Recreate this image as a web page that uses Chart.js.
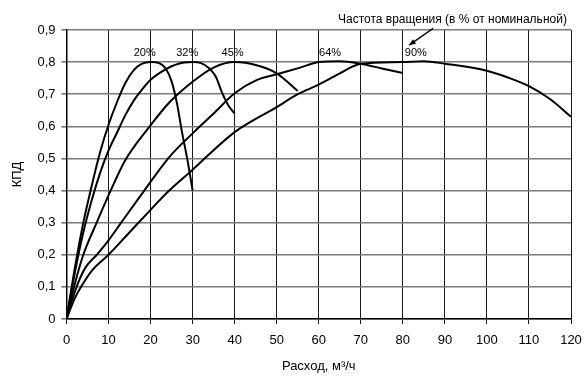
<!DOCTYPE html>
<html>
<head>
<meta charset="utf-8">
<script src="https://cdn.jsdelivr.net/npm/chart.js@4/dist/chart.umd.min.js"></script>
<style>
  body { margin: 0; background: #fff; }
  #wrap { width: 585px; height: 376px; }
</style>
</head>
<body>
<div id="wrap"><canvas id="kpdChart"></canvas></div>
<script>
// расход (м3/ч) и КПД для каждой частоты вращения
var rashod20 = [0, 2, 4, 6, 8, 10, 12, 14, 16, 18, 20, 22, 23.7, 25, 26.3, 27.5, 28.7, 30];
var kpd20    = [0, 0.16, 0.3, 0.415, 0.52, 0.605, 0.675, 0.735, 0.775, 0.795, 0.80, 0.797, 0.778, 0.74, 0.67, 0.58, 0.50, 0.40];

var rashod32 = [0, 2, 4, 6, 8, 10, 12, 14, 16, 18, 20, 22, 25, 28, 30, 32, 34, 35.5, 37, 38.5, 40];
var kpd32    = [0, 0.145, 0.27, 0.37, 0.455, 0.525, 0.58, 0.635, 0.68, 0.715, 0.745, 0.765, 0.787, 0.799, 0.80, 0.797, 0.78, 0.755, 0.705, 0.665, 0.64];

var rashod45 = [0, 2, 4, 7, 10, 14, 19.8, 24.5, 30, 35, 40, 45.2, 50, 55];
var kpd45    = [0, 0.11, 0.2, 0.295, 0.385, 0.495, 0.60, 0.675, 0.739, 0.783, 0.80, 0.79, 0.765, 0.71];

var rashod64 = [0, 2.4, 4.5, 7.2, 10, 13, 18.5, 24.5, 30, 35, 40, 45.2, 50, 55.4, 60, 65, 70, 75, 80];
var kpd64    = [0, 0.1, 0.16, 0.2, 0.245, 0.3, 0.4, 0.505, 0.578, 0.64, 0.703, 0.744, 0.762, 0.782, 0.80, 0.803, 0.795, 0.78, 0.766];

var rashod90 = [0, 2, 3.7, 6, 10, 15, 20, 24, 30, 40, 50, 55, 60, 65, 68, 70, 80, 85, 90, 100, 105, 110, 115, 120];
var kpd90    = [0, 0.065, 0.105, 0.15, 0.2, 0.27, 0.34, 0.395, 0.465, 0.582, 0.66, 0.70, 0.73, 0.765, 0.786, 0.795, 0.80, 0.803, 0.795, 0.773, 0.752, 0.725, 0.685, 0.63];

// подписи кривых
var chastoty = ['20%', '32%', '45%', '64%', '90%'];
var podpisX = [18.6, 28.7, 39.5, 62.7, 83.1];
var podpisY = 0.83;

var xMin = 0, xMax = 120, xStep = 10;
var yMin = 0, yMax = 0.9, yStep = 0.1;

function toPoints(xs, ys) {
    var pts = [];
    for (var i = 0; i < xs.length; i++) {
        pts.push({ x: xs[i], y: ys[i] });
    }
    return pts;
}

var seriesX = [rashod20, rashod32, rashod45, rashod64, rashod90];
var seriesY = [kpd20, kpd32, kpd45, kpd64, kpd90];
var datasets = [];
for (var s = 0; s < seriesX.length; s++) {
    datasets.push({
        label: chastoty[s],
        data: toPoints(seriesX[s], seriesY[s]),
        showLine: true,
        borderColor: '#000',
        borderWidth: 2,
        pointRadius: 0,
        cubicInterpolationMode: 'monotone',
        fill: false
    });
}

// подписи и стрелка сверху
var annotPlugin = {
    id: 'annot',
    afterDraw: function (chart) {
        var ctx = chart.ctx;
        var xs = chart.scales.x;
        var ys = chart.scales.y;
        ctx.save();
        ctx.fillStyle = '#000';
        ctx.font = '11px "Liberation Sans", Arial, sans-serif';
        ctx.textAlign = 'center';
        ctx.textBaseline = 'middle';
        for (var i = 0; i < chastoty.length; i++) {
            ctx.fillText(chastoty[i], xs.getPixelForValue(podpisX[i]), ys.getPixelForValue(podpisY));
        }
        ctx.font = '12px "Liberation Sans", Arial, sans-serif';
        ctx.fillText('Частота вращения (в % от номинальной)', xs.getPixelForValue(91.8), ys.getPixelForValue(0.931));

        // стрелка
        var x1 = xs.getPixelForValue(87.2), y1 = ys.getPixelForValue(0.905);
        var x2 = xs.getPixelForValue(81.5), y2 = ys.getPixelForValue(0.853);
        ctx.strokeStyle = '#000';
        ctx.lineWidth = 1.3;
        ctx.beginPath();
        ctx.moveTo(x1, y1);
        ctx.lineTo(x2, y2);
        ctx.stroke();
        var ang = Math.atan2(y2 - y1, x2 - x1);
        ctx.beginPath();
        ctx.moveTo(x2, y2);
        ctx.lineTo(x2 - 7 * Math.cos(ang - 0.4), y2 - 7 * Math.sin(ang - 0.4));
        ctx.lineTo(x2 - 7 * Math.cos(ang + 0.4), y2 - 7 * Math.sin(ang + 0.4));
        ctx.closePath();
        ctx.fill();
        ctx.restore();
    }
};

var ctx = document.getElementById('kpdChart').getContext('2d');
var kpdChart = new Chart(ctx, {
    type: 'scatter',
    data: { datasets: datasets },
    plugins: [annotPlugin],
    options: {
        responsive: true,
        maintainAspectRatio: false,
        animation: false,
        layout: { padding: { top: 30, right: 14, bottom: 0, left: 0 } },
        plugins: {
            legend: { display: false },
            tooltip: { enabled: false }
        },
        scales: {
            x: {
                type: 'linear',
                min: xMin,
                max: xMax,
                afterFit: function (axis) {
                    axis.height = 57;
                    axis.paddingLeft = 0;
                    axis.paddingRight = 0;
                },
                ticks: {
                    stepSize: xStep,
                    color: '#000',
                    padding: 9,
                    maxRotation: 0,
                    font: { family: '"Liberation Sans", Arial, sans-serif', size: 13 }
                },
                grid: { display: true, drawOnChartArea: true, color: '#1a1a1a', lineWidth: 1, tickLength: 5 },
                border: { display: true, color: '#000', width: 1.5 },
                title: {
                    display: true,
                    text: 'Расход, м³/ч',
                    color: '#000',
                    padding: { top: 0, bottom: 2 },
                    font: { family: '"Liberation Sans", Arial, sans-serif', size: 13 }
                }
            },
            y: {
                type: 'linear',
                min: yMin,
                max: yMax,
                afterFit: function (axis) {
                    axis.width = 66.5;
                    axis.paddingTop = 0;
                    axis.paddingBottom = 0;
                },
                ticks: {
                    stepSize: yStep,
                    color: '#000',
                    padding: 6,
                    font: { family: '"Liberation Sans", Arial, sans-serif', size: 13 },
                    callback: function (v) {
                        return v === 0 ? '0' : v.toFixed(1).replace('.', ',');
                    }
                },
                grid: { display: true, drawOnChartArea: true, color: '#7a7a7a', lineWidth: 1.6, tickLength: 5 },
                border: { display: true, color: '#000', width: 1.5 },
                title: {
                    display: true,
                    text: 'КПД',
                    color: '#000',
                    padding: { top: 10, bottom: 0 },
                    font: { family: '"Liberation Sans", Arial, sans-serif', size: 13 }
                }
            }
        }
    }
});
</script>
</body>
</html>
